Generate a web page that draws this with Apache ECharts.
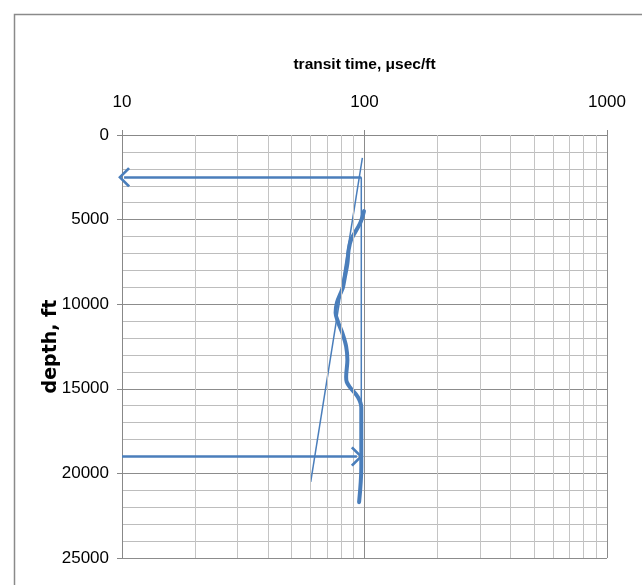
<!DOCTYPE html>
<html><head><meta charset="utf-8">
<script src="https://cdn.jsdelivr.net/npm/echarts@6/dist/echarts.min.js"></script>
<style>html,body{margin:0;padding:0;background:#fff}#c{width:642px;height:585px}</style>
</head><body><div id="c"></div>
<script>
// ---- data ----
const xTicks = [10, 100, 1000];
const xMinor = [20, 30, 40, 50, 60, 70, 80, 90, 200, 300, 400, 500, 600, 700, 800, 900];
const depthTicks = [0, 5000, 10000, 15000, 20000, 25000];
// measured transit-time log (µsec/ft) vs depth (ft)
const logTransit = [99.5, 96, 88, 86, 85, 83, 81.5, 80.5, 77, 76, 78, 81, 84, 85, 84, 84.5, 87, 94, 97, 97, 95];
const logDepth   = [4500, 5200, 6200, 6800, 7600, 8400, 9000, 9200, 9900, 10500, 11100, 11700, 12500, 13300, 14300, 14600, 14900, 15500, 16100, 19600, 21700];
// normal compaction trend line
const trendTransit = [98, 60];
const trendDepth = [1350, 20500];
// vertical connector between the two arrows
const connTransit = [97, 97];
const connDepth = [2500, 19000];
// arrows: [start, end]
const upperArrowTransit = [97, 10.2];
const upperArrowDepth = [2500, 2500];
const lowerArrowTransit = [10, 93];
const lowerArrowDepth = [19000, 19000];

const BLUE = '#4A7EBB';
const zip = (a, b) => a.map((v, i) => [v, b[i]]);
const chevron = 'path://M10,0 L20,10 L18.2,12 L10,3.6 L1.8,12 L0,10 Z';
const narrow = '"Liberation Sans", Arial, sans-serif';

const chart = echarts.init(document.getElementById('c'), null, {renderer: 'canvas'});
chart.setOption({
  animation: false,
  backgroundColor: '#fff',
  graphic: [{
    type: 'rect', z: -10, silent: true,
    shape: {x: 14.5, y: 14.5, width: 700, height: 700},
    style: {fill: 'none', stroke: '#8a8a8a', lineWidth: 1.5}
  }],
  grid: {left: 122, top: 135, width: 485, height: 423, containLabel: false},
  xAxis: {
    type: 'log', logBase: 10, position: 'top', min: 10, max: 1000,
    name: 'transit time, μsec/ft', nameLocation: 'middle', nameGap: 62, nameMoveOverlap: false,
    nameTextStyle: {fontFamily: narrow, fontSize: 15.5, fontWeight: 'bold', color: '#000'},
    axisLine: {show: true, lineStyle: {color: '#888', width: 1}},
    axisTick: {show: true, length: 5, lineStyle: {color: '#888'}},
    axisLabel: {margin: 24, fontFamily: narrow, fontSize: 17, color: '#000',
      formatter: v => xTicks.includes(Math.round(v)) ? String(Math.round(v)) : ''},
    splitLine: {show: true, lineStyle: {color: '#8c8c8c', width: 1}}
  },
  yAxis: {
    type: 'value', inverse: true, min: 0, max: 25000, interval: 5000,
    name: 'depth, ft', nameLocation: 'middle', nameGap: 61, nameRotate: 90, nameMoveOverlap: false,
    nameTextStyle: {fontFamily: '"DejaVu Sans", Verdana, sans-serif', fontSize: 19, fontWeight: 'bold', color: '#000'},
    axisLine: {show: true, lineStyle: {color: '#888', width: 1}},
    axisTick: {show: true, length: 5, lineStyle: {color: '#888'}},
    axisLabel: {margin: 13, fontFamily: narrow, fontSize: 17, color: '#000',
      formatter: v => depthTicks.includes(v) ? String(v) : ''},
    splitLine: {show: true, lineStyle: {color: '#8c8c8c', width: 1}},
    minorTick: {show: false, splitNumber: 5},
    minorSplitLine: {show: true, lineStyle: {color: '#bdbdbd', width: 1}}
  },
  series: [
    { // minor log grid lines
      type: 'line', data: [], silent: true, z: 0,
      markLine: {silent: true, symbol: 'none', label: {show: false}, animation: false,
        lineStyle: {color: '#c4c4c4', type: 'solid', width: 1},
        emphasis: {disabled: true},
        data: xMinor.map(v => ({xAxis: v}))}
    },
    {
      type: 'line', data: zip(trendTransit, trendDepth), showSymbol: false, z: 3,
      lineStyle: {color: BLUE, width: 1.5}
    },
    {
      type: 'line', data: zip(connTransit, connDepth), showSymbol: false, z: 3,
      lineStyle: {color: BLUE, width: 1.5}
    },
    {
      type: 'line', data: zip(logTransit, logDepth), showSymbol: false, smooth: 0.35, z: 4,
      lineStyle: {color: BLUE, width: 4, cap: 'round', join: 'round'}
    },
    {
      type: 'line', data: [], z: 5,
      markLine: {
        silent: true, animation: false, label: {show: false},
        symbol: ['none', chevron], symbolSize: [20, 12],
        lineStyle: {color: BLUE, width: 2.5, type: 'solid'},
        itemStyle: {color: BLUE},
        emphasis: {disabled: true},
        data: [
          [{coord: [upperArrowTransit[0], upperArrowDepth[0]]}, {coord: [upperArrowTransit[1], upperArrowDepth[1]]}],
          [{coord: [lowerArrowTransit[0], lowerArrowDepth[0]]}, {coord: [lowerArrowTransit[1], lowerArrowDepth[1]]}]
        ]
      }
    }
  ]
});
</script></body></html>
